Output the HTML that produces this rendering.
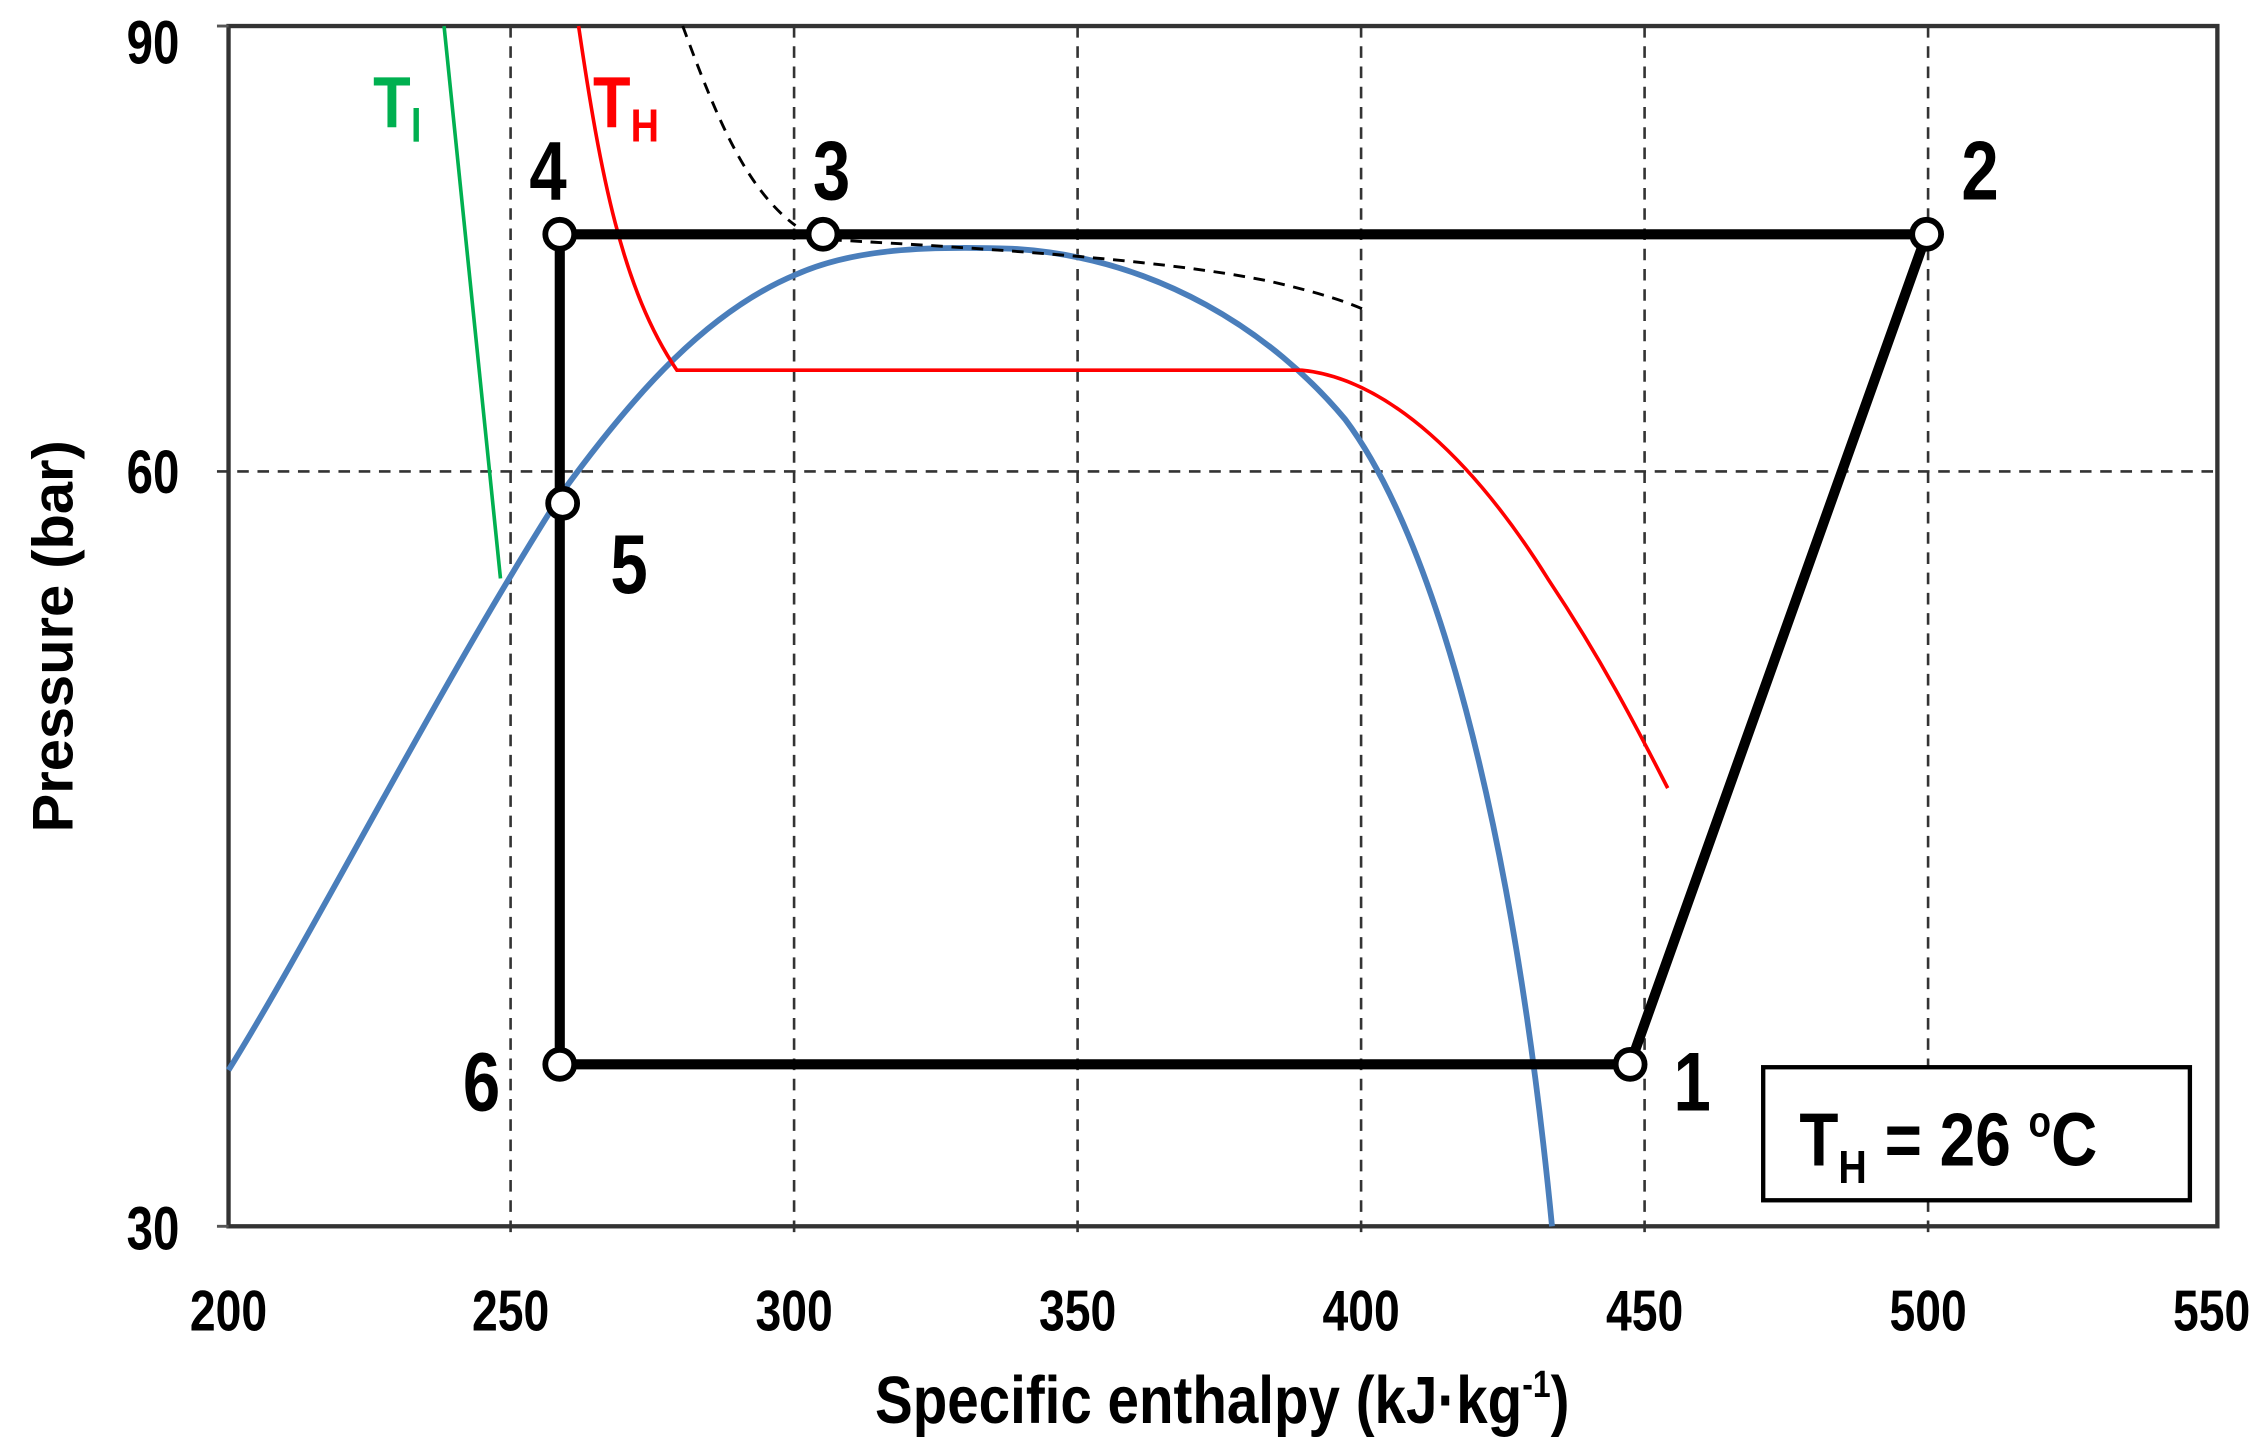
<!DOCTYPE html>
<html><head><meta charset="utf-8"><style>
html,body{margin:0;padding:0;background:#fff;}
svg{display:block;}
text{font-family:"Liberation Sans",sans-serif;font-weight:bold;}
</style></head><body>
<svg width="2268" height="1449" viewBox="0 0 1568 1002" preserveAspectRatio="none" xmlns="http://www.w3.org/2000/svg">
<rect width="1568" height="1002" fill="#fff"/>
<g stroke="#333" stroke-width="1.8" stroke-dasharray="8,6" fill="none">
<line x1="353" y1="18" x2="353" y2="856"/>
<line x1="549" y1="18" x2="549" y2="856"/>
<line x1="745" y1="18" x2="745" y2="856"/>
<line x1="941" y1="18" x2="941" y2="856"/>
<line x1="1137" y1="18" x2="1137" y2="856"/>
<line x1="1333" y1="18" x2="1333" y2="856"/>
<line x1="150" y1="326" x2="1533" y2="326"/>
</g>
<rect x="158" y="18" width="1375" height="830" fill="none" stroke="#333" stroke-width="3"/>
<line x1="150" y1="848" x2="158" y2="848" stroke="#555" stroke-width="2"/>
<line x1="150" y1="18" x2="158" y2="18" stroke="#555" stroke-width="2"/>
<!-- blue saturation curve -->
<path d="M158,740 C220,640 300,480 389,340 C440,270 490,215 550,190 C590,172 640,170 700,172 C800,178 880,230 930,290 C990,370 1045,560 1073,848" fill="none" stroke="#4a7ebb" stroke-width="4"/>
<!-- red -->
<path d="M400,18 C415,120 430,200 468,256 L900,256 C960,262 1020,320 1070,400 C1110,460 1135,510 1153,545" fill="none" stroke="#ff0000" stroke-width="2.5"/>
<!-- green -->
<path d="M307,18 L346,400" fill="none" stroke="#00b050" stroke-width="2.5"/>
<!-- dashed black -->
<path d="M472,18 C495,80 515,130 550,156 M560,165 C650,170 800,178 880,195 C910,202 930,208 945,215" fill="none" stroke="#000" stroke-width="2" stroke-dasharray="8,6"/>
<!-- cycle -->
<g stroke="#000" stroke-width="7" fill="none" stroke-linejoin="round">
<polyline points="387,736 387,162 1332,162 1127,736 387,736"/>
</g>
<g fill="#fff" stroke="#000" stroke-width="4">
<circle cx="387" cy="162" r="10"/>
<circle cx="569" cy="162" r="10"/>
<circle cx="1332" cy="162" r="10"/>
<circle cx="1127" cy="736" r="10"/>
<circle cx="387" cy="736" r="10"/>
<circle cx="389" cy="348" r="10"/>
</g>
<g font-size="58" fill="#000">
<text transform="translate(366,138) scale(0.8,1)">4</text>
<text transform="translate(562,138) scale(0.8,1)">3</text>
<text transform="translate(1356,138) scale(0.8,1)">2</text>
<text transform="translate(422,410) scale(0.8,1)">5</text>
<text transform="translate(320,768) scale(0.8,1)">6</text>
<text transform="translate(1157,768) scale(0.8,1)">1</text>
</g>
<text transform="translate(258,88) scale(0.85,1)" font-size="50" fill="#00b050">T<tspan font-size="32" dy="10">l</tspan></text>
<text transform="translate(410,88) scale(0.85,1)" font-size="50" fill="#ff0000">T<tspan font-size="32" dy="10">H</tspan></text>
<rect x="1219" y="738" width="295" height="92" fill="#fff" stroke="#000" stroke-width="3"/>
<text transform="translate(1244,806) scale(0.85,1)" font-size="52" fill="#000">T<tspan font-size="32" dy="12">H</tspan><tspan dy="-12"> = 26 </tspan><tspan font-size="30" dy="-20">o</tspan><tspan dy="20">C</tspan></text>
<g font-size="42" fill="#000" text-anchor="end">
<text transform="translate(124,44) scale(0.78,1)">90</text>
<text transform="translate(124,341) scale(0.78,1)">60</text>
<text transform="translate(124,864) scale(0.78,1)">30</text>
</g>
<g font-size="40" fill="#000" text-anchor="middle">
<text transform="translate(158,920) scale(0.8,1)">200</text>
<text transform="translate(353,920) scale(0.8,1)">250</text>
<text transform="translate(549,920) scale(0.8,1)">300</text>
<text transform="translate(745,920) scale(0.8,1)">350</text>
<text transform="translate(941,920) scale(0.8,1)">400</text>
<text transform="translate(1137,920) scale(0.8,1)">450</text>
<text transform="translate(1333,920) scale(0.8,1)">500</text>
<text transform="translate(1529,920) scale(0.8,1)">550</text>
</g>
<text transform="translate(845,984) scale(0.85,1)" font-size="46" fill="#000" text-anchor="middle">Specific enthalpy (kJ·kg<tspan font-size="26" dy="-18">-1</tspan><tspan dy="18">)</tspan></text>
<text transform="translate(50,440) rotate(-90)" font-size="40" fill="#000" text-anchor="middle">Pressure (bar)</text>
</svg>
</body></html>
